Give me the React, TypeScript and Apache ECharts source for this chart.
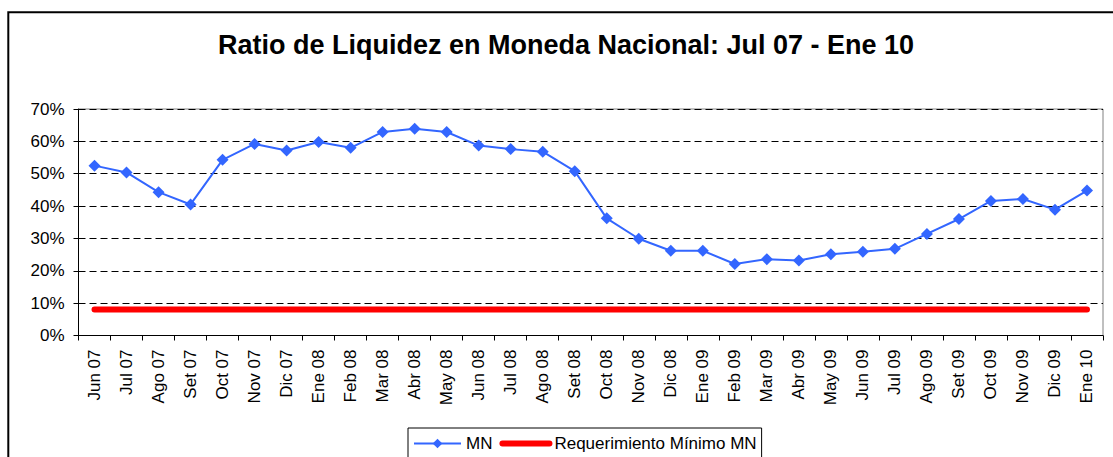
import React, { useEffect, useRef } from "react";
import * as echarts from "echarts";

const TITLE = "Ratio de Liquidez en Moneda Nacional: Jul 07 - Ene 10";

const CATEGORIES = [
  "Jun 07", "Jul 07", "Ago 07", "Set 07", "Oct 07", "Nov 07", "Dic 07", "Ene 08",
  "Feb 08", "Mar 08", "Abr 08", "May 08", "Jun 08", "Jul 08", "Ago 08", "Set 08",
  "Oct 08", "Nov 08", "Dic 08", "Ene 09", "Feb 09", "Mar 09", "Abr 09", "May 09",
  "Jun 09", "Jul 09", "Ago 09", "Set 09", "Oct 09", "Nov 09", "Dic 09", "Ene 10",
];

const MN = [
  52.5, 50.4, 44.3, 40.5, 54.3, 59.2, 57.2, 59.8,
  58.0, 62.9, 63.9, 62.9, 58.7, 57.6, 56.8, 50.8,
  36.2, 29.9, 26.2, 26.2, 22.1, 23.6, 23.2, 25.1,
  25.9, 26.8, 31.4, 36.0, 41.6, 42.2, 38.9, 44.8,
];

const REQ_MIN = [
  8, 8, 8, 8, 8, 8, 8, 8,
  8, 8, 8, 8, 8, 8, 8, 8,
  8, 8, 8, 8, 8, 8, 8, 8,
  8, 8, 8, 8, 8, 8, 8, 8,
];

const SERIES_NAMES = ["MN", "Requerimiento Mínimo MN"];
const Y_MIN = 0;
const Y_MAX = 70;
const Y_STEP = 10;

const FONT = "'Liberation Sans', Arial, sans-serif";

export default function App() {
  const ref = useRef<HTMLDivElement>(null);

  useEffect(() => {
    if (!ref.current) return;
    const chart = echarts.init(ref.current, null, { renderer: "svg" });
    chart.setOption({
      animation: false,
      backgroundColor: "#ffffff",
      textStyle: { fontFamily: FONT },
      title: {
        text: TITLE,
        left: 218,
        top: 31,
        padding: 0,
        textStyle: { fontFamily: FONT, fontSize: 27, fontWeight: "bold", color: "#000" },
      },
      graphic: [
        {
          type: "rect",
          silent: true,
          z: 100,
          shape: { x: 8.3, y: 12.3, width: 1300, height: 700 },
          style: { fill: "none", stroke: "#000", lineWidth: 2 },
        },
      ],
      legend: {
        left: 408,
        top: 428,
        orient: "horizontal",
        borderColor: "#000",
        borderWidth: 1,
        borderRadius: 0,
        padding: [7, 5, 30, 5],
        itemGap: 7,
        itemWidth: 47,
        itemHeight: 12,
        textStyle: { fontFamily: FONT, fontSize: 17, color: "#000" },
        data: [
          { name: SERIES_NAMES[0] },
          {
            name: SERIES_NAMES[1],
            lineStyle: { width: 6, cap: "round" },
            itemStyle: { opacity: 0 },
          },
        ],
      },
      grid: {
        left: 78.5,
        right: 10,
        top: 109,
        bottom: 121.5,
        show: true,
        borderColor: "#808080",
        borderWidth: 1,
        containLabel: false,
      },
      xAxis: {
        type: "category",
        data: CATEGORIES,
        boundaryGap: true,
        axisLine: { lineStyle: { color: "#000", width: 1 } },
        axisTick: { show: true, inside: false, length: 5, lineStyle: { color: "#000" } },
        axisLabel: {
          rotate: 90,
          interval: 0,
          margin: 14,
          fontFamily: FONT,
          fontSize: 17,
          color: "#000",
        },
        splitLine: { show: false },
      },
      yAxis: {
        type: "value",
        min: Y_MIN,
        max: Y_MAX,
        interval: Y_STEP,
        axisLine: { show: true, lineStyle: { color: "#000", width: 1 } },
        axisTick: { show: true, inside: false, length: 5, lineStyle: { color: "#000" } },
        axisLabel: {
          formatter: "{value}%",
          margin: 14,
          fontFamily: FONT,
          fontSize: 17,
          color: "#000",
        },
        splitLine: {
          show: true,
          lineStyle: { color: "#000", width: 1, type: [7, 4] },
        },
      },
      series: [
        {
          name: SERIES_NAMES[0],
          type: "line",
          data: MN,
          symbol: "diamond",
          symbolSize: 12,
          color: "#3366FF",
          lineStyle: { color: "#3366FF", width: 2 },
          itemStyle: { color: "#3366FF" },
          z: 3,
        },
        {
          name: SERIES_NAMES[1],
          type: "line",
          data: REQ_MIN,
          symbol: "none",
          color: "#FF0000",
          lineStyle: { color: "#FF0000", width: 6, cap: "round" },
          z: 2,
        },
      ],
    });
    return () => chart.dispose();
  }, []);

  return (
    <div
      ref={ref}
      style={{ position: "absolute", left: 0, top: 0, width: 1113, height: 457 }}
    />
  );
}
